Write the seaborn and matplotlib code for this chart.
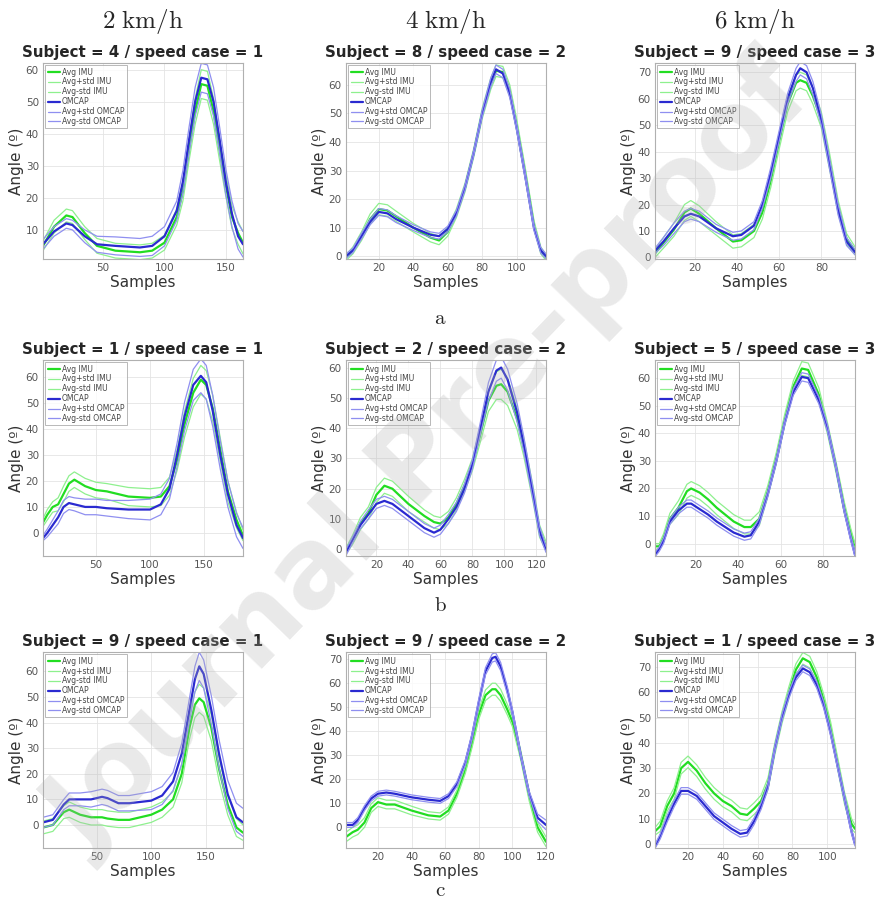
import numpy as np
import matplotlib
matplotlib.use("Agg")
import matplotlib.pyplot as plt
import seaborn as sns
from matplotlib.ticker import MultipleLocator

# Knee angle curves: avg and std for IMU and OMCAP
# row a
a1_x = [1, 10, 20, 25, 35, 45, 60, 80, 90, 100, 110, 115, 120, 125, 130, 135, 140, 145, 150, 155, 160, 164]
a1_imu = [5, 11, 14.5, 14, 9, 5, 3.5, 3, 3.5, 6, 14, 22, 35, 47, 55.5, 55, 47, 35, 24, 14, 9, 6]
a1_imu_sd = [1.5, 2, 2, 2, 2, 2.3, 2.3, 2.3, 2.3, 2.3, 2.5, 3, 3.5, 4, 4.5, 4.5, 4, 3.5, 3.5, 3.5, 3.5, 3.5]
a1_ocp = [5.5, 9.5, 12, 11.5, 8, 5.5, 5, 4.5, 5, 8, 16, 25, 38, 50, 57.5, 57, 50, 38, 25, 15, 8, 5.5]
a1_ocp_sd = [1.5, 1.5, 1.5, 1.5, 2, 2.5, 2.8, 2.8, 3, 3, 3, 3.5, 4, 4.5, 4.5, 4.5, 4.5, 4, 4, 4, 4, 4]

a2_x = [1, 5, 10, 15, 20, 25, 30, 40, 50, 55, 60, 65, 70, 75, 80, 85, 88, 92, 96, 100, 105, 110, 114, 117]
a2_imu = [-0.5, 2, 7, 13, 16.5, 16, 14, 10, 6.5, 5.5, 8.5, 15, 24, 36, 50, 60.5, 65, 64.5, 58, 46, 29, 11, 2, -0.5]
a2_imu_sd = [1, 1.2, 1.5, 1.8, 2, 2, 1.8, 1.5, 1.5, 1.5, 1.5, 1.5, 1.5, 1.5, 1.8, 2, 2, 2, 2, 2, 1.8, 1.5, 1.2, 1]
a2_ocp = [0, 2, 7, 12, 15.5, 15, 13, 10, 7.5, 7, 9.5, 15, 24, 36, 50, 61, 65.5, 64, 57, 45, 28, 10, 2, 0]
a2_ocp_sd = [0.8, 0.8, 1, 1, 1.2, 1.2, 1.2, 1, 1, 1, 1, 1, 1, 1, 1.2, 1.5, 1.5, 1.5, 1.5, 1.2, 1.2, 1, 1, 0.8]

a3_x = [1, 5, 10, 15, 18, 22, 30, 38, 42, 48, 52, 56, 60, 64, 68, 70, 73, 76, 80, 84, 88, 92, 96]
a3_imu = [1.5, 5.5, 10.5, 17, 18.5, 16.5, 11, 6, 6.5, 10, 17, 29, 44, 58, 66, 67, 66, 61, 52, 36, 19, 7, 2.5]
a3_imu_sd = [1.5, 2, 2.5, 3, 3, 3, 2.5, 2.5, 2.5, 2.5, 2.5, 2.5, 3, 3, 3, 3, 3, 3, 3, 3, 2.5, 2, 1.5]
a3_ocp = [2.5, 6, 11, 15.5, 16.5, 15.5, 11, 8, 8.5, 12, 20, 32, 46, 60, 69, 71.5, 70, 64, 52, 35, 18, 6, 2]
a3_ocp_sd = [1, 1.5, 2, 2, 2, 2, 1.5, 1.5, 1.5, 1.5, 1.5, 2, 2, 2, 2.5, 2.5, 2.5, 2.5, 2, 2, 2, 1.5, 1]

# row b
b1_x = [1, 5, 10, 15, 20, 25, 30, 40, 50, 60, 80, 100, 110, 118, 125, 132, 140, 147, 152, 158, 165, 172, 180, 186]
b1_imu = [4, 7, 10, 11, 15, 19, 20.5, 18, 16.5, 16, 14, 13.5, 14, 18, 28, 42, 54, 59, 57, 48, 32, 16, 5, -1]
b1_imu_sd = [1.5, 2, 2, 2.5, 3, 3, 3, 3, 3, 3, 3.5, 3.5, 3.5, 3.5, 4, 5, 5.5, 5.5, 5.5, 5, 4.5, 4, 3, 2]
b1_ocp = [-2, 0, 3, 6, 10, 11.5, 11, 10, 10, 9.5, 9, 9, 11, 17, 30, 45, 57, 60.5, 58, 47, 30, 15, 3, -2]
b1_ocp_sd = [1, 1.5, 2, 2.5, 2.5, 2.5, 2.5, 3, 3, 3, 3.5, 4, 4, 4, 4.5, 5.5, 6, 6.5, 6.5, 6, 5.5, 5, 4.5, 4]

b2_x = [1, 5, 10, 15, 20, 25, 30, 40, 50, 56, 60, 65, 70, 75, 80, 85, 90, 95, 98, 102, 108, 112, 118, 122, 126]
b2_imu = [-0.5, 3, 8.5, 12, 18, 21, 20, 15, 11, 9, 8.5, 10.5, 15, 21, 28, 38, 49, 54, 54.5, 52, 43, 34, 18, 6, 1]
b2_imu_sd = [1, 1.5, 2, 2, 2.5, 2.5, 2.5, 2.5, 2, 2, 2, 2, 2, 2, 2, 2.5, 3.5, 4.5, 5, 4.5, 3.5, 3, 2.5, 2, 1.5]
b2_ocp = [-1, 3, 8, 11.5, 15, 16, 15, 11, 7, 5.5, 6.5, 10, 14, 20, 28, 40, 52, 59, 60, 56, 45, 35, 18, 6, 0]
b2_ocp_sd = [1, 1, 1.2, 1.5, 1.5, 1.5, 1.5, 1.5, 1.5, 1.5, 1.5, 1.5, 1.5, 1.5, 1.5, 2, 3, 3.5, 3.5, 3.5, 3, 2.5, 2, 1.5, 1]

b3_x = [1, 3, 5, 8, 12, 16, 18, 22, 26, 30, 38, 43, 46, 50, 54, 58, 62, 66, 70, 73, 78, 82, 86, 90, 93, 95]
b3_imu = [-1, -1, 2, 9, 13, 19, 20, 18.5, 16, 13, 8, 6, 6, 9, 19, 31, 45, 57, 63.5, 63, 54, 42, 28, 13, 4, -1]
b3_imu_sd = [1, 1, 1.5, 2, 2.5, 2.5, 2.5, 2.5, 2.5, 2.5, 2.5, 2.5, 2.5, 2.5, 2, 2, 2, 2, 2.5, 2.5, 2.5, 2, 2, 2, 1.5, 1]
b3_ocp = [-4, -2, 1, 8, 12, 14.5, 14.5, 12.5, 10.5, 8, 4, 2.5, 3, 8, 18, 30, 44, 55, 60.5, 60, 52, 42, 28, 12, 2, -4]
b3_ocp_sd = [0.8, 0.8, 1, 1, 1.2, 1.3, 1.3, 1.3, 1.3, 1.3, 1.3, 1.3, 1.3, 1.2, 1, 1, 1, 1.2, 1.5, 1.5, 1.3, 1.2, 1, 1, 1, 0.8]

# row c
c1_x = [1, 10, 20, 25, 35, 45, 55, 60, 70, 80, 100, 110, 120, 128, 135, 140, 144, 148, 155, 162, 170, 178, 184]
c1_imu = [-1, 0, 5, 6, 4, 3, 3, 2.5, 2, 2, 4, 6, 10, 20, 38, 47, 49.5, 48, 38, 22, 8, -1, -3]
c1_imu_sd = [2.5, 2.5, 2.5, 3, 3, 3, 3, 3, 3, 3, 3, 3, 3, 3.5, 4.5, 5, 5.5, 5.5, 5, 4.5, 4, 3.5, 3]
c1_ocp = [1, 2, 8, 10, 10, 10, 11, 10.5, 8.5, 8.5, 9.5, 11.5, 17, 28, 45, 57, 62, 59, 45, 28, 12, 3, 1]
c1_ocp_sd = [2, 2, 2, 2.5, 2.5, 3, 3, 3, 3, 3, 3.5, 3.5, 3.5, 4, 4.5, 5, 5.5, 5.5, 5.5, 5.5, 5.5, 5.5, 5.5]

c2_x = [1, 5, 8, 12, 16, 20, 25, 30, 40, 50, 57, 62, 67, 72, 76, 80, 84, 88, 90, 93, 97, 100, 105, 110, 115, 120]
c2_imu = [-4, -2, -1, 2, 8, 10.5, 9.5, 9.5, 7, 5, 4.5, 7, 14, 24, 35, 47, 55, 57.5, 57.5, 55, 49, 44, 30, 13, 0, -6]
c2_imu_sd = [2, 2, 2, 2, 1.8, 1.8, 1.8, 1.8, 1.8, 1.5, 1.5, 1.5, 1.5, 1.5, 1.8, 2, 2.2, 2.5, 2.5, 2.5, 2.2, 2, 2, 2, 2, 2]
c2_ocp = [1, 1, 3, 8, 12, 14, 14.5, 14, 12.5, 11.5, 11, 13, 18, 27, 38, 52, 65, 70.5, 71, 67, 57, 48, 30, 14, 4, 1]
c2_ocp_sd = [1, 1, 1, 1, 1, 1, 1, 1, 1, 1, 1, 1, 1, 1, 1.2, 1.5, 1.5, 1.7, 1.7, 1.7, 1.5, 1.2, 1, 1, 1.5, 2]

c3_x = [1, 4, 8, 12, 16, 20, 25, 30, 35, 40, 45, 50, 54, 58, 62, 66, 70, 74, 78, 82, 86, 90, 94, 98, 102, 106, 110, 114, 116]
c3_imu = [5, 7, 15, 20, 30, 32.5, 29, 24, 20, 17, 15, 12, 11.5, 14, 17, 24, 38, 50, 60, 69, 73.5, 72, 66, 57, 46, 32, 18, 8, 6]
c3_imu_sd = [1.5, 2, 2, 2.3, 2.3, 2.3, 2.3, 2.3, 2.3, 2.3, 2.3, 2.3, 2.3, 2.3, 2.3, 2.3, 2.3, 2.3, 2.3, 2.3, 2.3, 2.3, 2.3, 2.3, 2.3, 2.3, 2.3, 2, 1.5]
c3_ocp = [-1, 3, 10, 16, 21, 21, 19, 15, 11, 8.5, 6, 4, 4.5, 9, 15, 23, 38, 50, 59, 66, 69.5, 68, 63, 55, 44, 31, 18, 5, 0]
c3_ocp_sd = [0.8, 1, 1.3, 1.3, 1.3, 1.3, 1.3, 1.3, 1.3, 1.3, 1.3, 1.3, 1.3, 1.3, 1.3, 1.3, 1.3, 1.3, 1.3, 1.3, 1.3, 1.3, 1.3, 1.3, 1.3, 1.3, 1.3, 1, 0.8]

titles = [["Subject = 4 / speed case = 1", "Subject = 8 / speed case = 2", "Subject = 9 / speed case = 3"],
          ["Subject = 1 / speed case = 1", "Subject = 2 / speed case = 2", "Subject = 5 / speed case = 3"],
          ["Subject = 9 / speed case = 1", "Subject = 9 / speed case = 2", "Subject = 1 / speed case = 3"]]
speeds = ["2", "4", "6"]
row_tags = ["a", "b", "c"]
ylims = [[(0.9, 62.1), (-1, 67.7), (-0.6, 73.5)],
         [(-8.9, 66.6), (-2.2, 62.5), (-4.5, 66.6)],
         [(-9, 67.6), (-8.6, 73), (-1.6, 76)]]

panels = [[(a1_x, a1_imu, a1_imu_sd, a1_ocp, a1_ocp_sd),
           (a2_x, a2_imu, a2_imu_sd, a2_ocp, a2_ocp_sd),
           (a3_x, a3_imu, a3_imu_sd, a3_ocp, a3_ocp_sd)],
          [(b1_x, b1_imu, b1_imu_sd, b1_ocp, b1_ocp_sd),
           (b2_x, b2_imu, b2_imu_sd, b2_ocp, b2_ocp_sd),
           (b3_x, b3_imu, b3_imu_sd, b3_ocp, b3_ocp_sd)],
          [(c1_x, c1_imu, c1_imu_sd, c1_ocp, c1_ocp_sd),
           (c2_x, c2_imu, c2_imu_sd, c2_ocp, c2_ocp_sd),
           (c3_x, c3_imu, c3_imu_sd, c3_ocp, c3_ocp_sd)]]

sns.set_theme(style="whitegrid")
plt.rcParams['font.family'] = ['DejaVu Sans']
plt.rcParams['mathtext.fontset'] = 'cm'

W, H = 878, 915
fig = plt.figure(figsize=(W / 100, H / 100), dpi=100)

col_left = [43, 346, 655]
row_bottom = [259, 556, 848]
ax_w, ax_h = 200, 196

green = '#22dd22'
green_l = '#8ef08e'
blue = '#2a2ad0'
blue_l = '#8f8ff0'

for r in range(3):
    for c in range(3):
        x, imu, imu_sd, ocp, ocp_sd = [np.array(v, dtype=float) for v in panels[r][c]]
        ax = fig.add_axes([col_left[c] / W, (H - row_bottom[r]) / H, ax_w / W, ax_h / H])
        sns.lineplot(x=x, y=imu, ax=ax, color=green, linewidth=1.6, label="Avg IMU")
        sns.lineplot(x=x, y=imu + imu_sd, ax=ax, color=green_l, linewidth=0.9, label="Avg+std IMU")
        sns.lineplot(x=x, y=imu - imu_sd, ax=ax, color=green_l, linewidth=0.9, label="Avg-std IMU")
        sns.lineplot(x=x, y=ocp, ax=ax, color=blue, linewidth=1.6, label="OMCAP")
        sns.lineplot(x=x, y=ocp + ocp_sd, ax=ax, color=blue_l, linewidth=0.9, label="Avg+std OMCAP")
        sns.lineplot(x=x, y=ocp - ocp_sd, ax=ax, color=blue_l, linewidth=0.9, label="Avg-std OMCAP")

        ax.set_xlim(x[0], x[-1])
        ax.set_ylim(*ylims[r][c])
        ax.xaxis.set_major_locator(MultipleLocator(50 if x[-1] > 150 else 20))
        ax.yaxis.set_major_locator(MultipleLocator(10))
        ax.grid(True, color='#e4e4e4', linewidth=0.6)
        for sp in ax.spines.values():
            sp.set_color('#b0b0b0')
            sp.set_linewidth(0.8)
        ax.tick_params(labelsize=7.5, colors='#555555', length=0, pad=3)
        ax.set_xlabel("Samples", fontsize=11, color='#333333', labelpad=1)
        ax.set_ylabel("Angle (º)", fontsize=11, color='#333333', labelpad=1)
        ax.set_title(titles[r][c], fontsize=10.8, fontweight='bold', pad=4)
        leg = ax.legend(loc='upper left', fontsize=5.5, frameon=True, fancybox=False,
                        handlelength=1.6, handletextpad=0.3, labelspacing=0.12,
                        borderpad=0.3, borderaxespad=0.3)
        leg.get_frame().set_edgecolor('#999999')
        leg.get_frame().set_linewidth(0.6)
        for t in leg.get_texts():
            t.set_color('#444444')

for c in range(3):
    cx = (col_left[c] + ax_w / 2) / W
    fig.text(cx, 1 - 22 / H, r"$%s\ \mathrm{km/h}$" % speeds[c], fontsize=18,
             ha='center', va='center')

for r, y in enumerate([318, 605, 890]):
    fig.text(440 / W, 1 - y / H, r"$\mathrm{%s}$" % row_tags[r], fontsize=15, ha='center', va='center')

# watermark
fig.text(0.49, 0.5, "Journal Pre-proof", fontsize=78, fontweight='bold', color='#b0b0b0',
         alpha=0.27, rotation=46, ha='center', va='center', zorder=100)

fig.savefig("out.png", dpi=100)
